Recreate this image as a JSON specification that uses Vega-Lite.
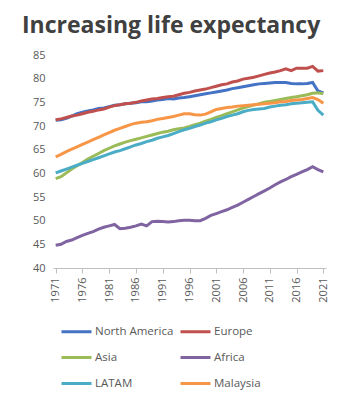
{
  "$schema": "https://vega.github.io/schema/vega-lite/v6.json",
  "autosize": {"type": "none"},
  "width": 273,
  "height": 213,
  "padding": {"left": 53, "top": 55, "right": 32, "bottom": 136},
  "background": "white",
  "title": {
    "text": "Increasing life expectancy",
    "font": "Open Sans",
    "fontSize": 23,
    "fontWeight": "bold",
    "color": "#404040",
    "anchor": "start",
    "frame": "group",
    "dx": -31,
    "offset": 11
  },
  "config": {"view": {"stroke": null}},
  "data": {
    "values": [
      {"year":1971,"North America":71.2,"Europe":71.3,"Asia":58.9,"Africa":44.8,"LATAM":60.1,"Malaysia":63.5},
      {"year":1972,"North America":71.3,"Europe":71.5,"Asia":59.3,"Africa":45.0,"LATAM":60.5,"Malaysia":64.0},
      {"year":1973,"North America":71.6,"Europe":71.8,"Asia":60.1,"Africa":45.6,"LATAM":60.9,"Malaysia":64.6},
      {"year":1974,"North America":72.1,"Europe":72.1,"Asia":60.9,"Africa":45.9,"LATAM":61.3,"Malaysia":65.1},
      {"year":1975,"North America":72.6,"Europe":72.3,"Asia":61.6,"Africa":46.4,"LATAM":61.7,"Malaysia":65.6},
      {"year":1976,"North America":72.9,"Europe":72.6,"Asia":62.3,"Africa":46.9,"LATAM":62.1,"Malaysia":66.1},
      {"year":1977,"North America":73.2,"Europe":72.9,"Asia":63.0,"Africa":47.3,"LATAM":62.5,"Malaysia":66.6},
      {"year":1978,"North America":73.4,"Europe":73.1,"Asia":63.6,"Africa":47.7,"LATAM":62.9,"Malaysia":67.1},
      {"year":1979,"North America":73.7,"Europe":73.4,"Asia":64.2,"Africa":48.2,"LATAM":63.3,"Malaysia":67.6},
      {"year":1980,"North America":73.8,"Europe":73.6,"Asia":64.8,"Africa":48.6,"LATAM":63.7,"Malaysia":68.1},
      {"year":1981,"North America":74.1,"Europe":74.0,"Asia":65.3,"Africa":48.9,"LATAM":64.1,"Malaysia":68.6},
      {"year":1982,"North America":74.4,"Europe":74.3,"Asia":65.8,"Africa":49.2,"LATAM":64.5,"Malaysia":69.1},
      {"year":1983,"North America":74.5,"Europe":74.5,"Asia":66.2,"Africa":48.3,"LATAM":64.8,"Malaysia":69.5},
      {"year":1984,"North America":74.7,"Europe":74.7,"Asia":66.6,"Africa":48.4,"LATAM":65.2,"Malaysia":69.9},
      {"year":1985,"North America":74.8,"Europe":74.8,"Asia":66.9,"Africa":48.6,"LATAM":65.6,"Malaysia":70.3},
      {"year":1986,"North America":74.9,"Europe":75.0,"Asia":67.2,"Africa":48.9,"LATAM":66.0,"Malaysia":70.6},
      {"year":1987,"North America":75.1,"Europe":75.3,"Asia":67.5,"Africa":49.3,"LATAM":66.3,"Malaysia":70.8},
      {"year":1988,"North America":75.1,"Europe":75.5,"Asia":67.8,"Africa":48.9,"LATAM":66.7,"Malaysia":70.9},
      {"year":1989,"North America":75.3,"Europe":75.7,"Asia":68.1,"Africa":49.8,"LATAM":67.0,"Malaysia":71.1},
      {"year":1990,"North America":75.5,"Europe":75.8,"Asia":68.4,"Africa":49.9,"LATAM":67.4,"Malaysia":71.4},
      {"year":1991,"North America":75.6,"Europe":76.0,"Asia":68.7,"Africa":49.8,"LATAM":67.7,"Malaysia":71.6},
      {"year":1992,"North America":75.8,"Europe":76.2,"Asia":68.9,"Africa":49.7,"LATAM":68.0,"Malaysia":71.8},
      {"year":1993,"North America":75.7,"Europe":76.3,"Asia":69.2,"Africa":49.8,"LATAM":68.4,"Malaysia":72.0},
      {"year":1994,"North America":75.9,"Europe":76.6,"Asia":69.4,"Africa":50.0,"LATAM":68.8,"Malaysia":72.3},
      {"year":1995,"North America":76.0,"Europe":76.9,"Asia":69.6,"Africa":50.1,"LATAM":69.2,"Malaysia":72.6},
      {"year":1996,"North America":76.2,"Europe":77.1,"Asia":69.9,"Africa":50.1,"LATAM":69.5,"Malaysia":72.6},
      {"year":1997,"North America":76.4,"Europe":77.4,"Asia":70.3,"Africa":50.0,"LATAM":69.9,"Malaysia":72.4},
      {"year":1998,"North America":76.6,"Europe":77.6,"Asia":70.6,"Africa":50.0,"LATAM":70.2,"Malaysia":72.3},
      {"year":1999,"North America":76.8,"Europe":77.8,"Asia":71.0,"Africa":50.5,"LATAM":70.6,"Malaysia":72.5},
      {"year":2000,"North America":77.0,"Europe":78.1,"Asia":71.4,"Africa":51.1,"LATAM":70.9,"Malaysia":73.0},
      {"year":2001,"North America":77.2,"Europe":78.4,"Asia":71.8,"Africa":51.5,"LATAM":71.3,"Malaysia":73.5},
      {"year":2002,"North America":77.4,"Europe":78.7,"Asia":72.2,"Africa":51.9,"LATAM":71.6,"Malaysia":73.7},
      {"year":2003,"North America":77.6,"Europe":78.9,"Asia":72.6,"Africa":52.3,"LATAM":72.0,"Malaysia":73.9},
      {"year":2004,"North America":77.9,"Europe":79.3,"Asia":73.0,"Africa":52.8,"LATAM":72.3,"Malaysia":74.0},
      {"year":2005,"North America":78.1,"Europe":79.5,"Asia":73.4,"Africa":53.3,"LATAM":72.6,"Malaysia":74.2},
      {"year":2006,"North America":78.3,"Europe":79.9,"Asia":73.8,"Africa":53.9,"LATAM":73.0,"Malaysia":74.3},
      {"year":2007,"North America":78.5,"Europe":80.1,"Asia":74.1,"Africa":54.5,"LATAM":73.3,"Malaysia":74.4},
      {"year":2008,"North America":78.7,"Europe":80.3,"Asia":74.4,"Africa":55.1,"LATAM":73.5,"Malaysia":74.5},
      {"year":2009,"North America":78.9,"Europe":80.6,"Asia":74.7,"Africa":55.7,"LATAM":73.6,"Malaysia":74.6},
      {"year":2010,"North America":79.0,"Europe":80.9,"Asia":75.0,"Africa":56.3,"LATAM":73.7,"Malaysia":74.7},
      {"year":2011,"North America":79.1,"Europe":81.2,"Asia":75.2,"Africa":56.9,"LATAM":74.0,"Malaysia":74.8},
      {"year":2012,"North America":79.2,"Europe":81.4,"Asia":75.4,"Africa":57.6,"LATAM":74.2,"Malaysia":74.9},
      {"year":2013,"North America":79.2,"Europe":81.7,"Asia":75.6,"Africa":58.2,"LATAM":74.4,"Malaysia":75.1},
      {"year":2014,"North America":79.2,"Europe":82.1,"Asia":75.8,"Africa":58.7,"LATAM":74.5,"Malaysia":75.2},
      {"year":2015,"North America":79.0,"Europe":81.7,"Asia":76.0,"Africa":59.3,"LATAM":74.7,"Malaysia":75.4},
      {"year":2016,"North America":78.9,"Europe":82.2,"Asia":76.2,"Africa":59.8,"LATAM":74.8,"Malaysia":75.5},
      {"year":2017,"North America":78.9,"Europe":82.2,"Asia":76.4,"Africa":60.3,"LATAM":74.9,"Malaysia":75.6},
      {"year":2018,"North America":79.0,"Europe":82.2,"Asia":76.6,"Africa":60.8,"LATAM":75.0,"Malaysia":75.8},
      {"year":2019,"North America":79.2,"Europe":82.6,"Asia":76.9,"Africa":61.4,"LATAM":75.1,"Malaysia":76.0},
      {"year":2020,"North America":77.4,"Europe":81.6,"Asia":77.0,"Africa":60.8,"LATAM":73.3,"Malaysia":75.6},
      {"year":2021,"North America":77.0,"Europe":81.7,"Asia":76.8,"Africa":60.3,"LATAM":72.3,"Malaysia":74.8}
    ]
  },
  "transform": [
    {"fold": ["North America", "Europe", "Asia", "Africa", "LATAM", "Malaysia"], "as": ["region", "value"]}
  ],
  "mark": {"type": "line", "strokeWidth": 3, "clip": true},
  "encoding": {
    "x": {
      "field": "year",
      "type": "quantitative",
      "scale": {"domain": [1970.5, 2021.5], "nice": false, "zero": false},
      "axis": {
        "title": null,
        "values": [1971, 1976, 1981, 1986, 1991, 1996, 2001, 2006, 2011, 2016, 2021],
        "format": "d",
        "labelAngle": -90,
        "labelFont": "Open Sans",
        "labelFontSize": 11,
        "labelColor": "#595959",
        "labelPadding": 4,
        "domainColor": "#bfbfbf",
        "tickColor": "#bfbfbf",
        "tickSize": 5,
        "grid": false
      }
    },
    "y": {
      "field": "value",
      "type": "quantitative",
      "scale": {"domain": [40, 85], "nice": false, "zero": false},
      "axis": {
        "title": null,
        "values": [40, 45, 50, 55, 60, 65, 70, 75, 80, 85],
        "labelFont": "Open Sans",
        "labelFontSize": 11,
        "labelColor": "#595959",
        "labelPadding": 8,
        "domain": false,
        "ticks": false,
        "grid": false
      }
    },
    "color": {
      "field": "region",
      "type": "nominal",
      "scale": {
        "domain": ["North America", "Europe", "Asia", "Africa", "LATAM", "Malaysia"],
        "range": ["#4472C4", "#C0504D", "#9BBB59", "#8064A2", "#4BACC6", "#F79646"]
      },
      "legend": {
        "title": null,
        "orient": "none",
        "legendX": 7,
        "legendY": 260,
        "direction": "horizontal",
        "columns": 2,
        "symbolType": "stroke",
        "symbolSize": 900,
        "symbolStrokeWidth": 3,
        "symbolOffset": 0,
        "labelFont": "Open Sans",
        "labelFontSize": 11.5,
        "labelColor": "#595959",
        "labelOffset": 2,
        "columnPadding": 0,
        "rowPadding": 3,
        "labelLimit": 200
      }
    }
  }
}
